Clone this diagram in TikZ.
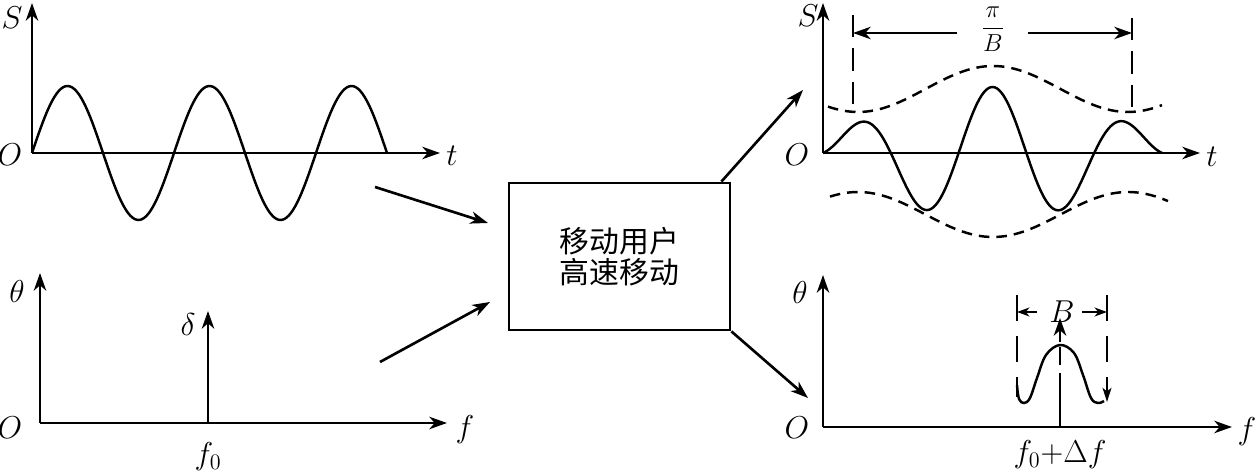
\RequirePackage{fix-cm}
\documentclass[tikz,border=0pt]{standalone}
\usepackage{fontspec}
\newfontfamily\cjk{Noto Sans CJK SC}
\usetikzlibrary{arrows.meta}
\tikzset{
  axis/.style={line width=1.6pt,-{Stealth[length=10pt,width=7pt,inset=3pt]}},
  link/.style={line width=1.5pt,-{Stealth[length=10pt,width=7pt,inset=3pt]}},
  dimarr/.style={line width=1.4pt,-{Stealth[length=7pt,width=5pt,inset=2pt]}},
  wave/.style={line width=1.4pt},
  env/.style={line width=1.4pt,dash pattern=on 6pt off 4pt},
  guide/.style={line width=1.4pt,dash pattern=on 0.45cm off 0.22cm},
  lbl/.style={font=\fontsize{18}{21}\selectfont,inner sep=0pt},
  box/.style={draw,line width=1.6pt,minimum width=4.42cm,minimum height=2.94cm,
    align=center,font=\fontsize{17}{17.6}\selectfont\cjk}
}

\begin{document}
\begin{tikzpicture}[x=0.02cm,y=-0.02cm]
%%%%% START %%%%%
\useasboundingbox (0,0) rectangle (1259,475);

% signal before, top left
\coordinate (oA) at (32,153);
\coordinate (sA) at (32,3);
\coordinate (tA) at (440,153);
\draw[axis] (oA) -- (sA);
\draw[axis] (oA) -- (tA);
\node[lbl] (labSA) at (12,18) {$S$};
\node[lbl] (labOA) at (10,155) {$O$};
\node[lbl] (labtA) at (452,156) {$t$};
\draw[wave] plot[domain=32:387,samples=160] (\x,{153-67*sin((\x-32)/142*360)});

% spectrum before, bottom left
\coordinate (oB) at (40,423);
\coordinate (thB) at (40,273);
\coordinate (fB) at (447,423);
\draw[axis] (oB) -- (thB);
\draw[axis] (oB) -- (fB);
\coordinate (dB0) at (208,423);
\coordinate (dB1) at (208,311);
\draw[axis] (dB0) -- (dB1);
\node[lbl] (labthB) at (17,292) {$\theta$};
\node[lbl] (labOB) at (10,428) {$O$};
\node[lbl] (labfB) at (465,430) {$f$};
\node[lbl] (labdB) at (188,325) {$\delta$};
\node[lbl] (labf0B) at (208,457) {$f_0$};

% the channel
\node[box] (mobile) at (619.5,256.5) {移动用户\\高速移动};

\coordinate (inA) at (375,187);
\coordinate (inAe) at (488,223);
\coordinate (inB) at (380,362);
\coordinate (inBe) at (490,302);
\draw[link] (inA) -- (inAe);
\draw[link] (inB) -- (inBe);

\coordinate (outA) at ([xshift=-0.2cm]mobile.north east);
\coordinate (outAe) at (803,90);
\coordinate (outBe) at (808,398);
\draw[link] (outA) -- (outAe);
\draw[link] (mobile.south east) -- (outBe);

% signal after, top right
\coordinate (oC) at (823,153);
\coordinate (sC) at (823,3);
\coordinate (tC) at (1200,153);
\draw[axis] (oC) -- (sC);
\draw[axis] (oC) -- (tC);
\node[lbl] (labSC) at (808,16) {$S$};
\node[lbl] (labOC) at (797,155) {$O$};
\node[lbl] (labtC) at (1212,157) {$t$};
\draw[wave] plot[domain=823:1162,samples=200]
  (\x,{153-(66-36*((\x-993)/135)^2)*sin((\x-823)/135.6*360)});
\draw[env] plot[domain=828:1162,samples=80] (\x,{89-23*cos((\x-993)/270*360)});
\draw[env] plot[domain=830:1168,samples=80] (\x,{214.5+22.5*cos((\x-993)/270*360)});

\coordinate (gL0) at (853,15);
\coordinate (gL1) at (853,111);
\coordinate (gR0) at (1132,18);
\coordinate (gR1) at (1132,113);
\draw[guide] (gL0) -- (gL1);
\draw[guide] (gR0) -- (gR1);
\coordinate (pL) at (957,33);
\coordinate (pLe) at (853,33);
\coordinate (pR) at (1028,33);
\coordinate (pRe) at (1132,33);
\draw[link] (pL) -- (pLe);
\draw[link] (pR) -- (pRe);
\node[lbl,font=\fontsize{14}{16}\selectfont] (labpi) at (993,29) {$\displaystyle\frac{\pi}{B}$};

% spectrum after, bottom right
\coordinate (oD) at (823,427);
\coordinate (thD) at (823,275);
\coordinate (fD) at (1232,427);
\draw[axis] (oD) -- (thD);
\draw[axis] (oD) -- (fD);
\node[lbl] (labthD) at (800,293) {$\theta$};
\node[lbl] (labOD) at (797,428) {$O$};
\node[lbl] (labfD) at (1247,432) {$f$};
\node[lbl] (labf0D) at (1060,455) {$f_0{+}\Delta f$};

\coordinate (cD0) at (1060,427);
\coordinate (cD1) at (1060,318);
\draw[axis,dash pattern=on 1.08cm off 0.16cm on 0.36cm off 0.1cm on 2cm] (cD0) -- (cD1);
\draw[wave] plot[smooth,tension=0.6] coordinates {(1017,385) (1019,399) (1024,403)
  (1030,398) (1037,378) (1046,355) (1060,345) (1074,353) (1083,375) (1091,398)
  (1098,403) (1104,401)};
\coordinate (bL0) at (1017,295);
\coordinate (bL1) at (1017,397);
\coordinate (bR0) at (1107,295);
\coordinate (bR1) at (1107,402);
\draw[guide,dash pattern=on 0.52cm off 0.3cm] (bL0) -- (bL1);
\draw[guide,dash pattern=on 0.52cm off 0.3cm,-{Stealth[length=8pt,width=5pt,inset=2pt]}] (bR0) -- (bR1);
\coordinate (bA) at (1037,312);
\coordinate (bAe) at (1017,312);
\coordinate (bB) at (1082,312);
\coordinate (bBe) at (1107,312);
\draw[dimarr] (bA) -- (bAe);
\draw[dimarr] (bB) -- (bBe);
\node[lbl] (labB) at (1062,312) {$B$};
%%%%% END %%%%%
\end{tikzpicture}
\end{document}
